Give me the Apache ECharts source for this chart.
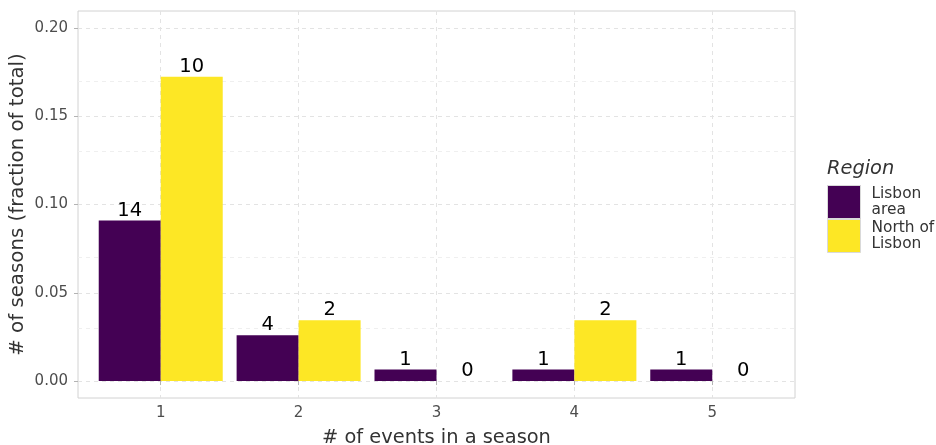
<!DOCTYPE html>
<html><head><meta charset="utf-8">
<script src="https://cdn.jsdelivr.net/npm/echarts@6/dist/echarts.min.js"></script>
<style>html,body{margin:0;padding:0;background:#fff}#c{width:936px;height:445px}</style>
</head><body><div id="c"></div>
<script>
const categories = [1, 2, 3, 4, 5];
const seriesNames = ['Lisbon\narea', 'North of\nLisbon'];
const lisbonFraction = [0.0909, 0.0260, 0.0065, 0.0065, 0.0065];
const northFraction = [0.1724, 0.0345, 0, 0.0345, 0];
const lisbonCounts = [14, 4, 1, 1, 1];
const northCounts = [10, 2, 0, 2, 0];
const yTicks = [0, 0.05, 0.10, 0.15, 0.20];
const yMinorTicks = [0.025, 0.075, 0.125, 0.175];

const FONT = 'DejaVu Sans';
const chart = echarts.init(document.getElementById('c'));
const mkSeries = (name, vals, counts, color, extra) => Object.assign({
  name, type: 'bar', barWidth: 62, barGap: '0%', z: 2,
  itemStyle: { color },
  data: categories.map((c, i) => [c, vals[i]]),
  label: {
    show: true, position: 'top', distance: 0,
    fontFamily: FONT, fontSize: 19.5, color: '#000',
    formatter: p => String(counts[p.dataIndex])
  }
}, extra || {});

chart.setOption({
  animation: false,
  textStyle: { fontFamily: FONT },
  grid: { left: 78, right: 141, top: 11, bottom: 47, show: true, borderColor: '#d2d2d2', borderWidth: 1,
    containLabel: false, outerBoundsMode: 'none' },
  xAxis: {
    type: 'value', min: 0.4, max: 5.6,
    name: '# of events in a season', nameLocation: 'middle', nameGap: 30,
    nameTextStyle: { fontFamily: FONT, fontSize: 19.4, color: '#333' },
    axisLine: { show: false },
    axisTick: { show: true, length: 4, lineStyle: { color: '#b3b3b3' }, customValues: categories },
    axisLabel: { customValues: categories, margin: 8, fontSize: 15, color: '#4d4d4d', fontFamily: FONT },
    splitLine: { show: true, lineStyle: { color: '#e3e3e3', type: [4, 4] } }
  },
  yAxis: {
    type: 'value', min: -0.0096, max: 0.2096,
    name: '# of seasons (fraction of total)', nameLocation: 'middle', nameGap: 50, nameRotate: 90,
    nameMoveOverlap: false,
    nameTextStyle: { fontFamily: FONT, fontSize: 19.8, color: '#333' },
    axisLine: { show: false },
    axisTick: { show: true, length: 4, lineStyle: { color: '#b3b3b3' }, customValues: yTicks },
    axisLabel: { customValues: yTicks, margin: 10, fontSize: 15, color: '#4d4d4d', fontFamily: FONT,
      formatter: v => v.toFixed(2) },
    splitLine: { show: true, lineStyle: { color: '#e3e3e3', type: [4, 4] } }
  },
  legend: {
    orient: 'vertical', left: 827, top: 185, padding: 0, itemWidth: 33, itemHeight: 33, itemGap: 0,
    icon: 'rect', selectedMode: false,
    itemStyle: { borderColor: '#d9d9d9', borderWidth: 1 },
    textStyle: { fontFamily: FONT, fontSize: 15.4, color: '#333', lineHeight: 16.5, padding: [0, 0, 0, 6] },
    data: seriesNames
  },
  graphic: [{
    type: 'text', left: 827, top: 159,
    style: { text: 'Region', fontFamily: FONT, fontSize: 19.4, fontStyle: 'italic', fill: '#333' }
  }],
  series: [
    mkSeries(seriesNames[0], lisbonFraction, lisbonCounts, '#440154', {
      markLine: {
        silent: true, symbol: 'none', z: 1, label: { show: false },
        lineStyle: { color: '#efefef', type: [4, 4], width: 1 },
        data: yMinorTicks.map(v => ({ yAxis: v }))
      }
    }),
    mkSeries(seriesNames[1], northFraction, northCounts, '#FDE725')
  ]
});
</script></body></html>
